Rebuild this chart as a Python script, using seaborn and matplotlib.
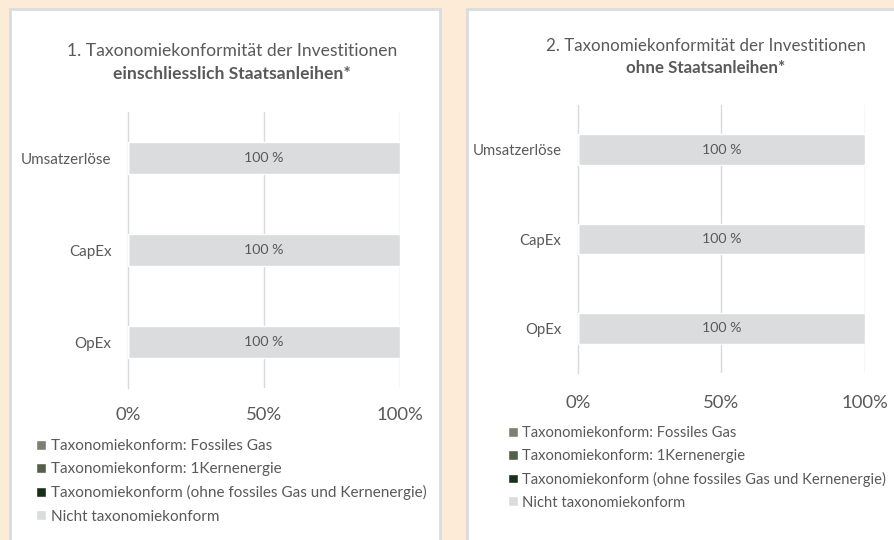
import matplotlib
matplotlib.use("Agg")
import matplotlib.pyplot as plt
from matplotlib.patches import Rectangle
import numpy as np
import pandas as pd
import seaborn as sns

# data
categories = ["Umsatzerlöse", "CapEx", "OpEx"]
series_names = [
    "Taxonomiekonform: Fossiles Gas",
    "Taxonomiekonform: 1Kernenergie",
    "Taxonomiekonform (ohne fossiles Gas und Kernenergie)",
    "Nicht taxonomiekonform",
]
with_bonds = {
    series_names[0]: [0, 0, 0],
    series_names[1]: [0, 0, 0],
    series_names[2]: [0, 0, 0],
    series_names[3]: [100, 100, 100],
}
without_bonds = {
    series_names[0]: [0, 0, 0],
    series_names[1]: [0, 0, 0],
    series_names[2]: [0, 0, 0],
    series_names[3]: [100, 100, 100],
}
xticks = [0, 50, 100]
xtick_labels = ["0%", "50%", "100%"]
titles = [
    ("1. Taxonomiekonformität der Investitionen", "einschliesslich Staatsanleihen*"),
    ("2. Taxonomiekonformität der Investitionen", "ohne Staatsanleihen*"),
]

colors = ["#7b8170", "#545e4b", "#163019", "#dbdcde"]
text_col = "#595959"
grid_col = "#d9d9d9"
bg = "#fbebd7"

sns.set_style("white")
plt.rcParams["font.family"] = ["Lato", "DejaVu Sans"]

fig = plt.figure(figsize=(8.95, 5.4), dpi=100, facecolor=bg)

W, H = 895.0, 540.0


def px_rect(x0, y0, x1, y1):
    # pixel box (from top left) -> figure fraction
    return [x0 / W, 1 - y1 / H, (x1 - x0) / W, (y1 - y0) / H]


# white panels, behind the axes
for (x0, y0, x1, y1) in [(10, 9, 440, 545), (467, 9, 905, 545)]:
    fig.patches.append(Rectangle((x0 / W, 1 - y1 / H), (x1 - x0) / W, (y1 - y0) / H,
                                 transform=fig.transFigure, facecolor="white",
                                 edgecolor="#dadcde", linewidth=2, zorder=-5))

panels = [
    dict(data=with_bonds, ax=px_rect(128, 112, 400, 388), title=titles[0], tx=232, ty=(51, 74),
         title_fs=12.6, cat_fs=10.9, leg_fs=11, xpad=13.5, legend=(36, 439)),
    dict(data=without_bonds, ax=px_rect(578, 105, 865, 373), title=titles[1], tx=706, ty=(46, 68),
         title_fs=12.2, cat_fs=10.7, leg_fs=10.6, xpad=15.5, legend=(508, 426)),
]

for p in panels:
    ax = fig.add_axes(p["ax"])
    ax.set_facecolor("none")
    df = pd.DataFrame(p["data"], index=categories)
    cum = df.cumsum(axis=1)

    # stacked bars: draw cumulative totals from the top series down
    handles = {}
    for i in range(len(series_names) - 1, -1, -1):
        name = series_names[i]
        sub = pd.DataFrame({"cat": categories, "val": cum[name].values})
        sns.barplot(data=sub, y="cat", x="val", color=colors[i], width=0.34,
                    saturation=1, ax=ax, label=name, zorder=3)
        cont = ax.containers[-1]
        handles[name] = cont
        vals = df[name].values
        labs = [f"{v:.0f} %" if v > 0 else "" for v in vals]
        ax.bar_label(cont, labels=labs, label_type="center", color=text_col, fontsize=10.2)

    ax.set_xlim(0, 100)
    ax.set_ylim(2.5, -0.5)
    ax.set_xlabel("")
    ax.set_ylabel("")
    ax.set_xticks(xticks)
    ax.set_xticklabels(xtick_labels, fontsize=13.3, color=text_col)
    ax.tick_params(axis="x", length=0, pad=p["xpad"])
    ax.tick_params(axis="y", which="major", length=0, pad=12, labelsize=p["cat_fs"],
                   labelcolor=text_col)
    ax.set_yticks(np.arange(-0.5, 3, 1), minor=True)
    ax.tick_params(axis="y", which="minor", length=5, color=grid_col, width=1)
    for x in xticks[1:]:
        ax.axvline(x, color=grid_col, lw=1, zorder=1)
    for s in ["top", "right", "bottom"]:
        ax.spines[s].set_visible(False)
    ax.spines["left"].set_color(grid_col)
    ax.spines["left"].set_linewidth(1)
    if ax.get_legend():
        ax.get_legend().remove()

    t1, t2 = p["title"]
    fig.text(p["tx"] / W, 1 - p["ty"][0] / H, t1, ha="center", va="center",
             fontsize=p["title_fs"], color=text_col)
    fig.text(p["tx"] / W, 1 - p["ty"][1] / H, t2, ha="center", va="center",
             fontsize=p["title_fs"], color=text_col, fontweight="bold")

    hs = [handles[n].patches[0] for n in series_names]
    lx, ly = p["legend"]
    fig.legend(hs, series_names, loc="upper left", bbox_to_anchor=(lx / W, 1 - ly / H),
               frameon=False, fontsize=p["leg_fs"], labelcolor=text_col, handlelength=0.65,
               handleheight=0.65, handletextpad=0.3, labelspacing=0.6, borderpad=0,
               borderaxespad=0)

fig.savefig("out.png", dpi=100, facecolor=bg)
